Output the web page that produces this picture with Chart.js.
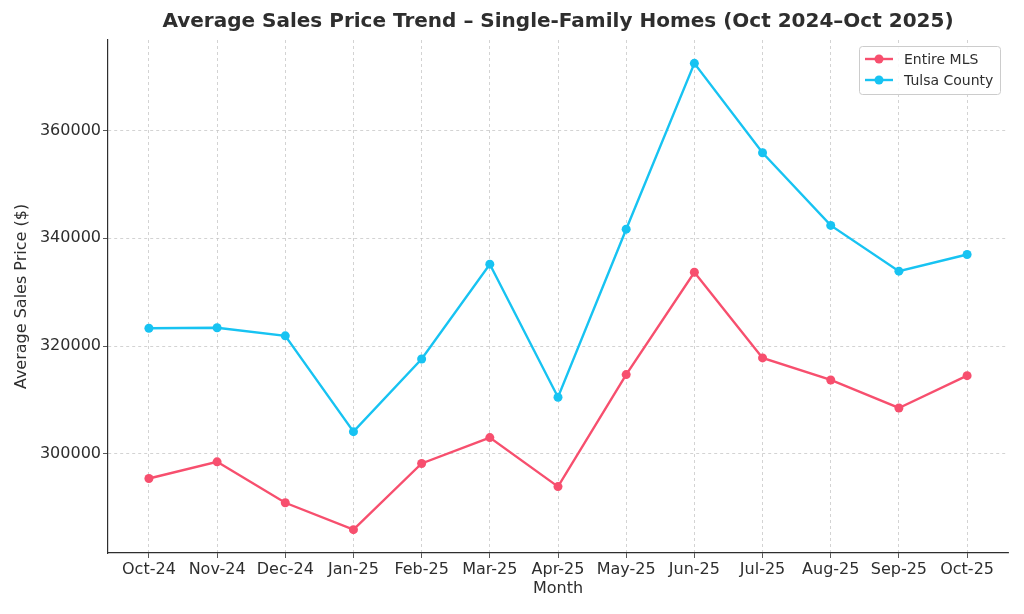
<!DOCTYPE html>
<html>
<head>
<meta charset="utf-8">
<title>Average Sales Price Trend</title>
<script src="https://cdn.jsdelivr.net/npm/chart.js@4.4.1/dist/chart.umd.min.js"></script>
<style>
  html, body { margin: 0; padding: 0; background: #fff; }
  canvas { display: block; }
</style>
</head>
<body>
<canvas id="chart" width="1024" height="614"></canvas>
<script>
// values
var months = ['Oct-24', 'Nov-24', 'Dec-24', 'Jan-25', 'Feb-25', 'Mar-25', 'Apr-25',
  'May-25', 'Jun-25', 'Jul-25', 'Aug-25', 'Sep-25', 'Oct-25'];
var entireMls = [295400, 298500, 290900, 285900, 298200, 303000, 293900,
  314700, 333700, 317800, 313700, 308500, 314500];
var tulsaCounty = [323300, 323400, 321900, 304100, 317600, 335200, 310500,
  341700, 372500, 355900, 342400, 333900, 337000];
var yTicks = [300000, 320000, 340000, 360000];

var chartTitle = 'Average Sales Price Trend \u2013 Single-Family Homes (Oct 2024\u2013Oct 2025)';

var RED = '#f74f6e';
var BLUE = '#17c3f2';
var TEXT = '#2e2e2e';
var FONT = "'DejaVu Sans', sans-serif";

function toPoints(values) {
  return values.map(function (v, i) { return { x: i, y: v }; });
}

// matplotlib style 5% margins around the data
var allValues = entireMls.concat(tulsaCounty);
var yMin = Math.min.apply(null, allValues);
var yMax = Math.max.apply(null, allValues);
var yPad = (yMax - yMin) * 0.05;
var xPad = (months.length - 1) * 0.05;

/* title centred over the plot area, not the whole canvas */
var plotTitle = {
  id: 'plotTitle',
  afterDraw: function (chart) {
    var c = chart.ctx;
    var area = chart.chartArea;
    c.save();
    c.font = 'bold 20px ' + FONT;
    c.fillStyle = TEXT;
    c.textAlign = 'center';
    c.textBaseline = 'middle';
    c.fillText(chartTitle, (area.left + area.right) / 2, 22);
    c.restore();
  }
};

/* legend drawn inside the plot, upper right, with a box like matplotlib */
var innerLegend = {
  id: 'innerLegend',
  afterDraw: function (chart) {
    var c = chart.ctx;
    var area = chart.chartArea;
    var w = 141, h = 48;
    var x = area.right - 8 - w;
    var y = area.top + 6;
    c.save();
    c.fillStyle = 'rgba(255,255,255,0.85)';
    c.strokeStyle = '#cccccc';
    c.lineWidth = 1;
    c.beginPath();
    c.roundRect(x + 0.5, y + 0.5, w, h, 3);
    c.fill();
    c.stroke();
    c.font = '14px ' + FONT;
    c.textBaseline = 'middle';
    chart.data.datasets.forEach(function (ds, i) {
      var ry = y + 13 + i * 21;
      c.strokeStyle = ds.borderColor;
      c.lineWidth = 2.4;
      c.beginPath();
      c.moveTo(x + 6, ry);
      c.lineTo(x + 34, ry);
      c.stroke();
      c.fillStyle = ds.borderColor;
      c.beginPath();
      c.arc(x + 20, ry, 4.5, 0, Math.PI * 2);
      c.fill();
      c.fillStyle = TEXT;
      c.fillText(ds.label, x + 45, ry + 1);
    });
    c.restore();
  }
};

function gridOpts() {
  return {
    color: '#c8c8c8',
    lineWidth: 0.8,
    tickColor: TEXT,
    tickBorderDash: [],
    tickLength: 5
  };
}

var ctx = document.getElementById('chart').getContext('2d');
new Chart(ctx, {
  type: 'line',
  data: {
    datasets: [
      {
        label: 'Entire MLS',
        data: toPoints(entireMls),
        borderColor: RED,
        backgroundColor: RED,
        borderWidth: 2.4,
        pointRadius: 4.5,
        pointBorderWidth: 0,
        tension: 0
      },
      {
        label: 'Tulsa County',
        data: toPoints(tulsaCounty),
        borderColor: BLUE,
        backgroundColor: BLUE,
        borderWidth: 2.4,
        pointRadius: 4.5,
        pointBorderWidth: 0,
        tension: 0
      }
    ]
  },
  options: {
    responsive: false,
    animation: false,
    devicePixelRatio: 1,
    layout: { padding: { left: 0, right: 16, top: 40, bottom: 0 } },
    plugins: {
      legend: { display: false },
      tooltip: { enabled: false },
      title: { display: false }
    },
    scales: {
      x: {
        type: 'linear',
        min: -xPad,
        max: months.length - 1 + xPad,
        afterBuildTicks: function (scale) {
          scale.ticks = months.map(function (m, i) { return { value: i }; });
        },
        afterFit: function (scale) { scale.height = 61; },
        ticks: {
          autoSkip: false,
          maxRotation: 0,
          color: TEXT,
          padding: 2,
          font: { family: FONT, size: 16 },
          callback: function (v) { return months[v]; }
        },
        grid: gridOpts(),
        border: { display: true, color: TEXT, width: 1.2, dash: [3, 3] },
        title: {
          display: true,
          text: 'Month',
          color: TEXT,
          font: { family: FONT, size: 16 },
          padding: { top: 0, bottom: 16 }
        }
      },
      y: {
        min: yMin - yPad,
        max: yMax + yPad,
        afterBuildTicks: function (scale) {
          scale.ticks = yTicks.map(function (v) { return { value: v }; });
        },
        afterFit: function (scale) { scale.width = 108; },
        ticks: {
          color: TEXT,
          padding: 2,
          font: { family: FONT, size: 16 },
          callback: function (v) { return String(v); }
        },
        grid: gridOpts(),
        border: { display: true, color: TEXT, width: 1.2, dash: [3, 3] },
        title: {
          display: true,
          text: 'Average Sales Price ($)',
          color: TEXT,
          font: { family: FONT, size: 16 },
          padding: { top: 12, bottom: 0 }
        }
      }
    }
  },
  plugins: [plotTitle, innerLegend]
});
</script>
</body>
</html>
